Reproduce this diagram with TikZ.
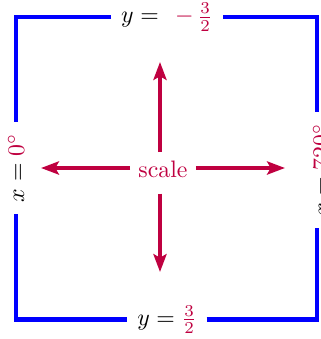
\documentclass[tikz,border=0pt]{standalone}
\usetikzlibrary{arrows.meta}
\begin{document}
\begin{tikzpicture}[x=0.42pt,y=-0.42pt,
  side/.style={draw=blue,line width=1.8pt},
  lab/.style={fill=white,inner sep=4pt},
  vlab/.style={fill=white,inner sep=5pt,rotate=90},
  arr/.style={draw=purple,line width=1.7pt,-{Stealth[length=7.5pt,width=5.5pt,inset=1.5pt]}}]
\useasboundingbox (0,0) rectangle (320,339);
\coordinate (tl) at (16,17);
\coordinate (tr) at (317,17);
\coordinate (bl) at (16,319.5);
\coordinate (br) at (317,319.5);
\node[lab] (top) at (167,17) {$y = \kern4pt{\color{purple}-}\kern1.7pt{\color{purple}\frac{3}{2}}$};
\node[lab] (bot) at (167,319.5) {$y = {\color{purple}\frac{3}{2}}$};
\node[vlab] (left) at (16,168) {$x = {\color{purple}0^\circ}$};
\node[vlab] (right) at (321,170) {$x = {\color{purple}720^\circ}$};
\draw[side] (top.west) -- (tl) -- (left.east);
\draw[side] (left.west) -- (bl) -- (bot.west);
\draw[side] (bot.east) -- (br) -- (br |- right.west);
\draw[side] (tr |- right.east) -- (tr) -- (top.east);
\node[text=purple,anchor=base,inner sep=3.33pt,text height=6.94pt,text depth=3.4pt] (c) at (163,177) {scale};
\coordinate (u) at (160,62);
\coordinate (d) at (160,272);
\coordinate (l) at (41,168);
\coordinate (r) at (285,168);
\draw[arr] (u |- c.north) -- (u);
\draw[arr] (d |- c.south) -- (d);
\draw[arr] (l -| c.west) -- (l);
\draw[arr] (r -| c.east) -- (r);
\end{tikzpicture}
\end{document}
